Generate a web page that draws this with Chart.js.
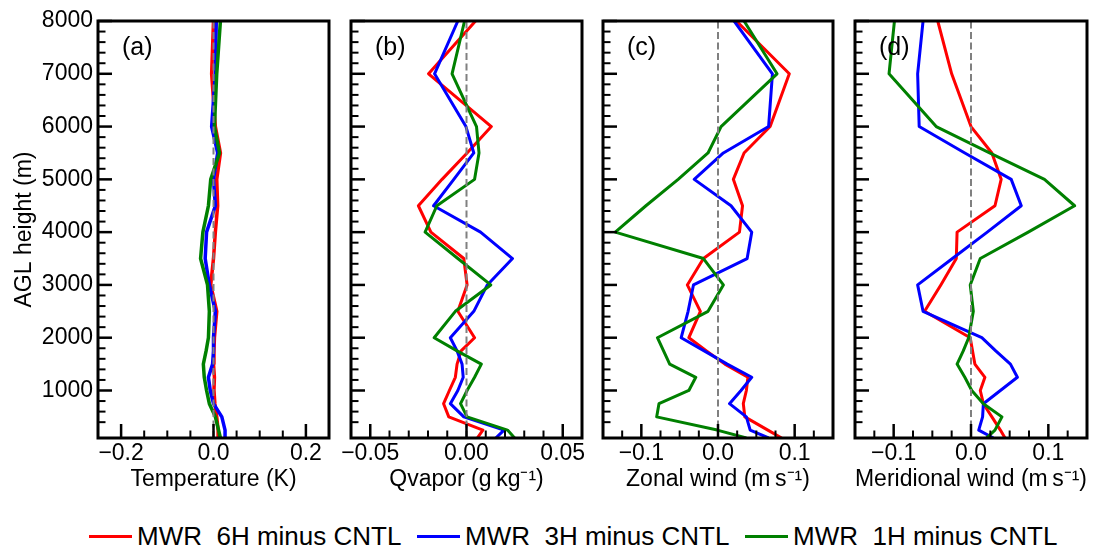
<!DOCTYPE html>
<html><head><meta charset="utf-8">
<script src="https://cdn.jsdelivr.net/npm/chart.js@4.4.1/dist/chart.umd.min.js"></script>
<style>
html,body{margin:0;padding:0;background:#fff;}
body{width:1097px;height:549px;position:relative;overflow:hidden;}
canvas{position:absolute;top:0;}
#legend{position:absolute;left:89px;top:521px;display:flex;font-family:'Liberation Sans',Arial,sans-serif;font-size:26px;line-height:30px;color:#000;}
.item{width:328px;display:flex;align-items:center;white-space:pre;}
.swatch{width:43px;height:3px;margin-right:5px;flex:none;}
</style></head><body>
<canvas id="pa" width="345" height="500" style="left:0px"></canvas>
<canvas id="pb" width="261" height="500" style="left:331px"></canvas>
<canvas id="pc" width="260" height="500" style="left:583px"></canvas>
<canvas id="pd" width="262" height="500" style="left:835px"></canvas>
<div id="legend"></div>
<script>
// ---------- data ----------
const heights = [100,250,500,750,1000,1250,1500,1750,2000,2500,3000,3500,4000,4500,5000,5500,6000,7000,8000];
const seriesNames = ['MWR  6H minus CNTL','MWR  3H minus CNTL','MWR  1H minus CNTL'];
const seriesColors = ['#ff0000','#0000ff','#008000'];

const tempRed   = [0.011,0.010,0.007,0.003,0.001,0.002,0.000,0.001,0.002,0.007,-0.006,0.000,0.004,0.009,0.007,0.015,0.004,-0.004,0.000];
const tempBlue  = [0.025,0.025,0.018,0.000,-0.007,-0.011,-0.002,0.000,0.000,0.004,-0.009,-0.018,-0.015,0.004,0.000,0.009,-0.004,0.004,0.006];
const tempGreen = [0.015,0.011,0.004,-0.009,-0.015,-0.020,-0.022,-0.016,-0.011,-0.009,-0.013,-0.028,-0.023,-0.011,-0.006,0.013,0.002,0.007,0.015];

const qvRed   = [0.0056,0.0085,-0.0092,-0.0119,-0.0089,-0.0058,-0.0049,-0.0028,0.0042,-0.0045,0.0003,-0.0014,-0.0185,-0.0250,-0.0127,0.0003,0.0129,-0.0197,0.0047];
const qvBlue  = [0.0152,0.0195,-0.0014,-0.0084,-0.0045,-0.0017,-0.0023,-0.0049,-0.0084,0.0038,0.0108,0.0239,0.0073,-0.0171,-0.0066,0.0038,-0.0003,-0.0166,-0.0045];
const qvGreen = [0.0250,0.0213,0.0003,-0.0031,0.0003,0.0042,0.0077,-0.0049,-0.0168,-0.0058,0.0126,-0.0045,-0.0215,-0.0154,0.0042,0.0065,0.0052,-0.0075,-0.0010];

const uRed   = [0.083,0.065,0.035,0.033,0.037,0.039,0.009,-0.015,-0.038,-0.023,-0.040,-0.019,0.028,0.032,0.020,0.034,0.068,0.093,0.024];
const uBlue  = [0.066,0.042,0.037,0.015,0.030,0.044,0.012,-0.018,-0.048,-0.039,-0.032,0.038,0.044,0.017,-0.031,0.007,0.066,0.071,0.021];
const uGreen = [0.037,-0.001,-0.080,-0.077,-0.038,-0.029,-0.063,-0.071,-0.079,-0.013,0.007,-0.019,-0.134,-0.094,-0.052,-0.013,0.004,0.077,0.034];

const vRed   = [0.044,0.038,0.027,0.016,0.012,0.018,0.005,0.002,-0.001,-0.060,-0.039,-0.019,-0.018,0.031,0.039,0.027,0.000,-0.025,-0.043];
const vBlue  = [0.029,0.010,0.015,0.016,0.038,0.060,0.051,0.032,0.014,-0.062,-0.069,-0.024,0.021,0.065,0.052,-0.008,-0.067,-0.069,-0.062];
const vGreen = [0.020,0.031,0.040,0.016,0.001,-0.008,-0.018,-0.010,-0.003,0.003,-0.001,0.012,0.074,0.134,0.095,0.024,-0.045,-0.106,-0.099];

const zeroLineX = [0, 0];
const zeroLineY = [100, 8000];

const yTickValues = [1000,2000,3000,4000,5000,6000,7000,8000];
const yTickLabels = ['1000','2000','3000','4000','5000','6000','7000','8000'];
const aXTickValues = [-0.2, 0, 0.2];   const aXTickLabels = ['\u22120.2','0.0','0.2'];
const bXTickValues = [-0.05, 0, 0.05]; const bXTickLabels = ['\u22120.05','0.00','0.05'];
const cXTickValues = [-0.1, 0, 0.1];   const cXTickLabels = ['\u22120.1','0.0','0.1'];
const dXTickValues = [-0.1, 0, 0.1];   const dXTickLabels = ['\u22120.1','0.0','0.1'];

const panelLabels = ['(a)','(b)','(c)','(d)'];
const xTitles = ['Temperature (K)','Qvapor (g\u2009kg\u207B\u00B9)','Zonal wind (m\u2009s\u207B\u00B9)','Meridional wind (m\u2009s\u207B\u00B9)'];
const yTitle = 'AGL height (m)';

// ---------- chart setup ----------
Chart.defaults.font.family = "'Liberation Sans', Arial, sans-serif";
Chart.defaults.font.size = 23;
Chart.defaults.color = '#000';

const near = (a, b) => Math.abs(a - b) < 1e-6;

const framePlugin = {
  id: 'frame',
  afterDatasetsDraw(chart) {
    const cfg = chart.options.plugins.frame;
    const {ctx, chartArea: a, scales: {x, y}} = chart;
    ctx.save();
    ctx.strokeStyle = '#000';
    ctx.lineCap = 'butt';
    x.ticks.forEach(t => {
      const px = x.getPixelForValue(t.value);
      const major = cfg.xMajor.some(m => near(m, t.value));
      ctx.lineWidth = major ? 2.5 : 2;
      ctx.beginPath(); ctx.moveTo(px, a.bottom); ctx.lineTo(px, a.bottom - (major ? 14 : 7.5)); ctx.stroke();
    });
    y.ticks.forEach(t => {
      const py = y.getPixelForValue(t.value);
      const major = yTickValues.some(m => near(m, t.value));
      ctx.lineWidth = major ? 2.5 : 2;
      ctx.beginPath(); ctx.moveTo(a.left, py); ctx.lineTo(a.left + (major ? 14 : 7.5), py); ctx.stroke();
    });
    ctx.lineWidth = 3;
    ctx.strokeRect(a.left, a.top, a.right - a.left, a.bottom - a.top);
    ctx.fillStyle = '#000';
    ctx.font = "25px 'Liberation Sans', Arial, sans-serif";
    ctx.textBaseline = 'middle';
    ctx.textAlign = 'left';
    ctx.fillText(cfg.label, a.left + 24, 48);
    ctx.restore();
  }
};

function pts(vals) { return vals.map((v, i) => ({x: v, y: heights[i]})); }

function makePanel(id, idx, series, xmin, xmax, xstep, xMajor, xLabels, showY, yWidth, pad, lw) {
  const datasets = [
    {data: zeroLineX.map((v, i) => ({x: v, y: zeroLineY[i]})), borderColor: '#808080', borderWidth: 2, borderDash: [7, 3.5], order: 0},
    {data: pts(series[2]), borderColor: seriesColors[2], borderWidth: lw, order: 1},
    {data: pts(series[1]), borderColor: seriesColors[1], borderWidth: lw, order: 2},
    {data: pts(series[0]), borderColor: seriesColors[0], borderWidth: lw, order: 3}
  ];
  datasets.forEach(d => { d.showLine = true; d.pointRadius = 0; d.pointHoverRadius = 0; d.fill = false; d.tension = 0; d.borderJoinStyle = 'round'; });
  new Chart(document.getElementById(id), {
    type: 'scatter',
    data: {datasets},
    options: {
      responsive: false, animation: false, events: [],
      layout: {padding: pad},
      plugins: {legend: {display: false}, tooltip: {enabled: false}, frame: {label: panelLabels[idx], xMajor}},
      scales: {
        x: {
          type: 'linear', min: xmin, max: xmax,
          grid: {display: false, drawTicks: false}, border: {display: false},
          ticks: {stepSize: xstep, autoSkip: false, maxRotation: 0, padding: 2, color: '#000',
            callback: v => { const k = xMajor.findIndex(m => near(m, v)); return k >= 0 ? xLabels[k] : ''; }},
          title: {display: true, text: xTitles[idx], color: '#000', padding: {top: 0, bottom: 7}},
          afterFit: s => { s.height = 62; }
        },
        y: {
          type: 'linear', min: 100, max: 8000,
          grid: {display: false, drawTicks: false}, border: {display: false},
          ticks: {display: showY, stepSize: 200, autoSkip: false, padding: 5, color: '#000',
            callback: v => { const k = yTickValues.findIndex(m => near(m, v)); return k >= 0 ? yTickLabels[k] : ''; }},
          title: {display: showY, text: yTitle, color: '#000', padding: {top: 3, bottom: 4}},
          afterFit: s => { s.width = yWidth; }
        }
      }
    },
    plugins: [framePlugin]
  });
}

makePanel('pa', 0, [tempRed, tempBlue, tempGreen], -0.25, 0.25, 0.05, aXTickValues, aXTickLabels, true, 90, {left: 8, top: 21, right: 16, bottom: 0}, 3.5);
makePanel('pb', 1, [qvRed, qvBlue, qvGreen], -0.06, 0.06, 0.01, bXTickValues, bXTickLabels, false, 20, {left: 0, top: 21, right: 10, bottom: 0}, 3);
makePanel('pc', 2, [uRed, uBlue, uGreen], -0.15, 0.15, 0.025, cXTickValues, cXTickLabels, false, 20, {left: 0, top: 21, right: 10, bottom: 0}, 3);
makePanel('pd', 3, [vRed, vBlue, vGreen], -0.15, 0.15, 0.025, dXTickValues, dXTickLabels, false, 20, {left: 0, top: 21, right: 10, bottom: 0}, 3);

// ---------- legend ----------
const legend = document.getElementById('legend');
seriesNames.forEach((name, i) => {
  const item = document.createElement('div'); item.className = 'item';
  const sw = document.createElement('div'); sw.className = 'swatch'; sw.style.background = seriesColors[i];
  const tx = document.createElement('span'); tx.textContent = name;
  item.appendChild(sw); item.appendChild(tx); legend.appendChild(item);
});
</script>
</body></html>
